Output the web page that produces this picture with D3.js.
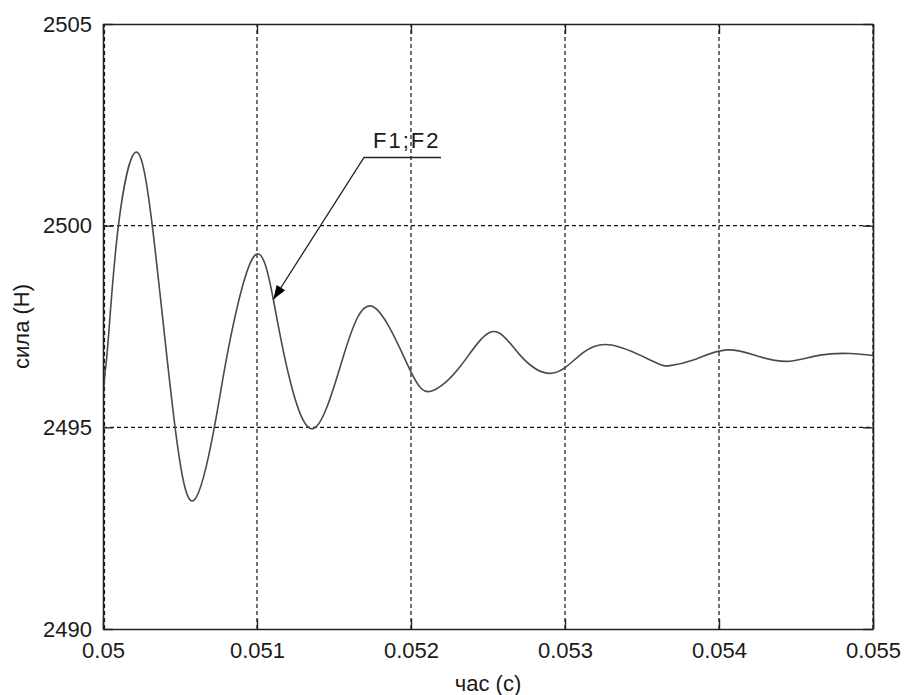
<!DOCTYPE html>
<html>
<head>
<meta charset="utf-8">
<script src="https://cdn.jsdelivr.net/npm/d3@7/dist/d3.min.js"></script>
<style>
  html, body { margin: 0; padding: 0; background: #fff; }
  svg { display: block; }
  text { font-family: "Liberation Sans", Arial, sans-serif; fill: #1a1a1a; }
</style>
</head>
<body>
<svg id="chart" width="904" height="695"></svg>
<script>
// ---- data ----
const timeValues = [
  0.05, 0.050013, 0.050034, 0.050099, 0.050208, 0.050320, 0.050468, 0.050593,
  0.050723, 0.050825, 0.050987, 0.051106, 0.051203, 0.051366, 0.051560, 0.051755,
  0.051994, 0.052134, 0.052318, 0.052524, 0.052708, 0.052914, 0.053097, 0.053303,
  0.053574, 0.053682, 0.053833, 0.054050, 0.054266, 0.054461, 0.054656, 0.054851,
  0.055
];
const forceValues = [
  2495.68, 2496.35, 2497.17, 2499.97, 2501.81, 2500.00, 2495.00, 2493.20,
  2495.00, 2497.16, 2499.27, 2498.17, 2496.34, 2494.97, 2496.75, 2497.99,
  2496.42, 2495.90, 2496.50, 2497.37, 2496.79, 2496.34, 2496.79, 2497.04,
  2496.63, 2496.53, 2496.67, 2496.92, 2496.75, 2496.64, 2496.79, 2496.83,
  2496.78
];
const xTickValues = [0.05, 0.051, 0.052, 0.053, 0.054, 0.055];
const xTickLabels = ["0.05", "0.051", "0.052", "0.053", "0.054", "0.055"];
const yTickValues = [2490, 2495, 2500, 2505];
const yTickLabels = ["2490", "2495", "2500", "2505"];
const xDomain = [0.05, 0.055];
const yDomain = [2490, 2505];
const xAxisTitle = "час (с)";
const yAxisTitle = "сила (Н)";
const annotationText = "F1;F2";
// annotation leader: arrow tip on curve, elbow, end of underline (data coords)
const annotationTime = [0.051106, 0.051695, 0.052195];
const annotationForce = [2498.17, 2501.69, 2501.69];
const annotationTextPos = [0.051753, 2501.93];

// ---- layout ----
const margin = { left: 103, right: 31, top: 24, bottom: 66 };
const W = 904, H = 695;
const svg = d3.select("#chart");
const x = d3.scaleLinear().domain(xDomain).range([margin.left, W - margin.right]);
const y = d3.scaleLinear().domain(yDomain).range([H - margin.bottom, margin.top]);
const x0 = x.range()[0], x1 = x.range()[1], y0 = y.range()[0], y1 = y.range()[1];

svg.append("rect").attr("width", W).attr("height", H).attr("fill", "#fff");

// grid
const grid = svg.append("g").attr("stroke", "#111").attr("stroke-width", 1.2)
  .attr("stroke-dasharray", "4,3").attr("fill", "none");
grid.selectAll("line.gx").data(xTickValues).join("line")
  .attr("x1", d => x(d) + (d === xDomain[0] ? 1.5 : 0))
  .attr("x2", d => x(d) + (d === xDomain[0] ? 1.5 : 0))
  .attr("y1", y0).attr("y2", y1);
grid.selectAll("line.gy").data(yTickValues.filter(v => v !== yDomain[0] && v !== yDomain[1])).join("line")
  .attr("class", "gy")
  .attr("x1", x0).attr("x2", x1).attr("y1", d => y(d)).attr("y2", d => y(d));

// clip
svg.append("clipPath").attr("id", "clip").append("rect")
  .attr("x", x0).attr("y", y1).attr("width", x1 - x0).attr("height", y0 - y1);

// curve
const data = timeValues.map((t, i) => [t, forceValues[i]]);
const line = d3.line().x(d => x(d[0])).y(d => y(d[1])).curve(d3.curveNatural);
svg.append("path").datum(data).attr("clip-path", "url(#clip)")
  .attr("d", line).attr("fill", "none").attr("stroke", "#4a4a4a").attr("stroke-width", 1.6);

// axes (ticks inward on all four sides)
function styleAxis(g) {
  g.select(".domain").attr("stroke", "#222").attr("stroke-width", 1.6);
  g.selectAll(".tick line").attr("stroke", "#222").attr("stroke-width", 1.4);
  g.selectAll(".tick text").attr("fill", "#1a1a1a").style("font-size", "22px")
    .style("font-family", "'Liberation Sans', Arial, sans-serif");
}
const axB = d3.axisBottom(x).tickValues(xTickValues).tickSizeInner(-10).tickSizeOuter(0)
  .tickPadding(16).tickFormat((d, i) => xTickLabels[i]);
svg.append("g").attr("transform", `translate(0,${y0})`).call(axB).call(styleAxis)
  .selectAll(".tick text").attr("dy", "0.71em").attr("y", 13);
const axT = d3.axisTop(x).tickValues(xTickValues).tickSizeInner(-10).tickSizeOuter(0).tickFormat("");
svg.append("g").attr("transform", `translate(0,${y1})`).call(axT).call(styleAxis);
const axL = d3.axisLeft(y).tickValues(yTickValues).tickSizeInner(-10).tickSizeOuter(0)
  .tickPadding(11).tickFormat((d, i) => yTickLabels[i]);
svg.append("g").attr("transform", `translate(${x0},0)`).call(axL).call(styleAxis)
  .selectAll(".tick text").attr("x", -11);
const axR = d3.axisRight(y).tickValues(yTickValues).tickSizeInner(-10).tickSizeOuter(0).tickFormat("");
svg.append("g").attr("transform", `translate(${x1},0)`).call(axR).call(styleAxis);

// axis titles
svg.append("text").attr("x", (x0 + x1) / 2).attr("y", 691).attr("text-anchor", "middle")
  .style("font-size", "22px").text(xAxisTitle);
svg.append("text").attr("transform", `translate(29,${(y0 + y1) / 2}) rotate(-90)`)
  .attr("text-anchor", "middle").style("font-size", "22px").text(yAxisTitle);

// annotation
const ann = annotationTime.map((t, i) => [x(t), y(annotationForce[i])]);
svg.append("path").attr("d", d3.line()(ann)).attr("fill", "none")
  .attr("stroke", "#222").attr("stroke-width", 1.3);
// arrow head
const tip = ann[0], from = ann[1];
const ang = Math.atan2(from[1] - tip[1], from[0] - tip[0]);
const len = 14, half = 5;
const bx = tip[0] + len * Math.cos(ang), by = tip[1] + len * Math.sin(ang);
const px = -Math.sin(ang) * half, py = Math.cos(ang) * half;
svg.append("path")
  .attr("d", `M${tip[0]},${tip[1]}L${bx + px},${by + py}L${bx - px},${by - py}Z`)
  .attr("fill", "#000");
svg.append("text").attr("x", x(annotationTextPos[0])).attr("y", y(annotationTextPos[1]))
  .style("font-size", "22px").style("letter-spacing", "2px").text(annotationText);
</script>
</body>
</html>
